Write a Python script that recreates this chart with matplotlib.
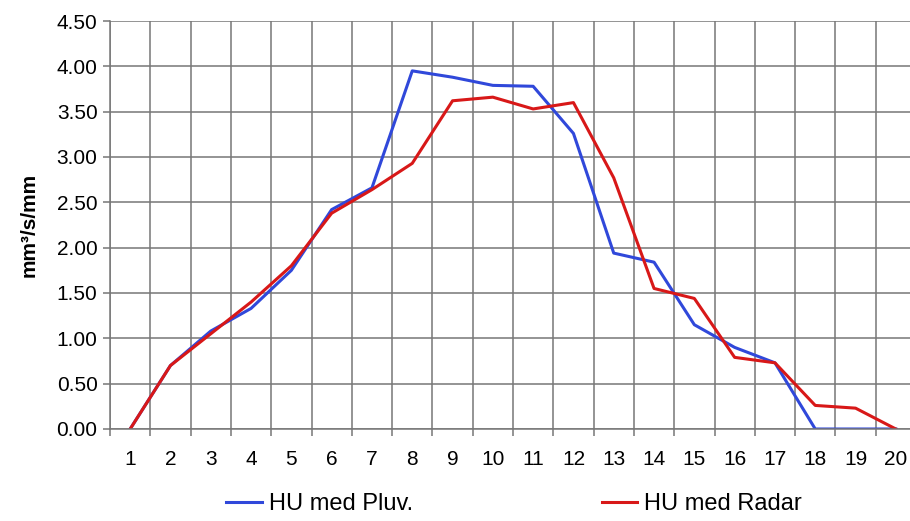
import matplotlib.pyplot as plt
import numpy as np

plt.rcParams['font.family'] = ['Liberation Sans', 'DejaVu Sans']

# unit hydrograph ordinates per time step
steps = list(range(1, 21))
hu_pluv = [0.00, 0.70, 1.08, 1.33, 1.75, 2.42, 2.66, 3.95, 3.88, 3.79,
           3.78, 3.26, 1.94, 1.84, 1.15, 0.90, 0.73, 0.00, 0.00, 0.00]
hu_radar = [0.00, 0.70, 1.05, 1.40, 1.80, 2.38, 2.64, 2.93, 3.62, 3.66,
            3.53, 3.60, 2.77, 1.55, 1.44, 0.79, 0.73, 0.26, 0.23, 0.00]
y_ticks = [0.0, 0.5, 1.0, 1.5, 2.0, 2.5, 3.0, 3.5, 4.0, 4.5]

fig = plt.figure(figsize=(9.10, 5.21), dpi=100)
# plot area runs slightly past the right edge of the figure
ax = fig.add_axes([110 / 910, 92 / 521, 806 / 910, 408 / 521])

grid_col = '#777777'
ax.plot(steps, hu_pluv, color='#3048da', lw=2.2, label='HU med Pluv.')
ax.plot(steps, hu_radar, color='#d81818', lw=2.2, label='HU med Radar')

ax.set_xlim(0.5, 20.5)
ax.set_ylim(0, 4.5)

# category axis: gridlines between categories, labels centred
ax.set_xticks(np.arange(0.5, 21, 1.0))
ax.set_xticklabels([])
ax.set_xticks(steps, minor=True)
ax.set_xticklabels([str(s) for s in steps], minor=True, fontsize=15)
ax.tick_params(axis='x', which='major', length=5, width=1.1, color=grid_col, direction='out')
ax.tick_params(axis='x', which='minor', length=0, pad=15)

ax.set_yticks(y_ticks)
ax.set_yticklabels([f'{v:.2f}' for v in y_ticks], fontsize=15)
ax.tick_params(axis='y', length=5, width=1.1, color=grid_col, pad=4)

ax.grid(True, which='major', color=grid_col, lw=1.1)
ax.set_axisbelow(True)
for side in ['top', 'right']:
    ax.spines[side].set_visible(False)
for side in ['left', 'bottom']:
    ax.spines[side].set_color(grid_col)
    ax.spines[side].set_linewidth(1.1)

ax.set_ylabel('mm³/s/mm', fontsize=15, fontweight='bold')
ax.yaxis.set_label_coords(-0.089, 0.5)

fig.legend(loc='center', bbox_to_anchor=(514 / 910, 0.032), ncol=2,
           frameon=False, fontsize=17, handlelength=1.5, handletextpad=0.3,
           columnspacing=8)

fig.savefig('out.png', dpi=100)
